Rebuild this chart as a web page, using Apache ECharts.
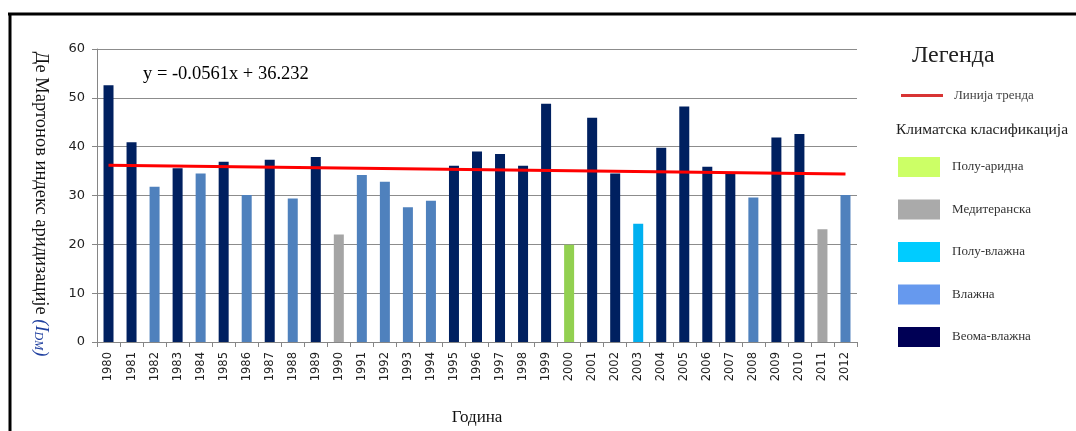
<!DOCTYPE html>
<html>
<head>
    <meta charset="utf-8">
    <title>Де Мартонов индекс аридизације</title>
    <script src="https://cdn.jsdelivr.net/npm/echarts@6/dist/echarts.min.js"></script>
    <style>
        html, body { margin: 0; padding: 0; background: #fff; }
        #main { width: 1076px; height: 431px; }
    </style>
</head>
<body>
<div id="main"></div>
<script type="text/javascript">
// years on the x axis
var years = ['1980','1981','1982','1983','1984','1985','1986','1987','1988','1989',
             '1990','1991','1992','1993','1994','1995','1996','1997','1998','1999',
             '2000','2001','2002','2003','2004','2005','2006','2007','2008','2009',
             '2010','2011','2012'];
// index values
var idmValues = [52.6, 40.9, 31.8, 35.6, 34.5, 36.9, 30.1, 37.3, 29.4, 37.9,
                 22.0, 34.2, 32.8, 27.6, 28.9, 36.1, 39.0, 38.5, 36.1, 48.8,
                 19.9, 45.9, 34.5, 24.2, 39.8, 48.2, 35.9, 34.5, 29.6, 41.9,
                 42.6, 23.1, 30.1];
// climate class of each year (index into classNames)
var yearClass = [4, 4, 3, 4, 3, 4, 3, 4, 3, 4,
                 1, 3, 3, 3, 3, 4, 4, 4, 4, 4,
                 0, 4, 4, 2, 4, 4, 4, 4, 3, 4,
                 4, 1, 3];
var classNames = ['Полу-аридна', 'Медитеранска', 'Полу-влажна', 'Влажна', 'Веома-влажна'];
var barColors = ['#92d050', '#a5a5a5', '#00b0f0', '#4f81bd', '#002060'];
var legendColors = ['#ccff66', '#aaaaaa', '#00ccff', '#6699ee', '#000055'];
// trend line end points (1980 and 2012)
var trendEnds = [36.18, 34.38];
var trendName = 'Линија тренда';
var equation = 'y = -0.0561x + 36.232';

var serif = '"Liberation Serif", "DejaVu Serif", serif';
var sans = '"DejaVu Sans", Verdana, sans-serif';

var chart = echarts.init(document.getElementById('main'));

var series = classNames.map(function (name, c) {
    return {
        name: name,
        type: 'bar',
        stack: 'idm',
        barWidth: 10,
        itemStyle: { color: barColors[c] },
        data: idmValues.map(function (v, i) { return yearClass[i] === c ? v : '-'; })
    };
});

var trendData = years.map(function () { return '-'; });
trendData[0] = trendEnds[0];
trendData[years.length - 1] = trendEnds[1];
series.push({
    name: trendName,
    type: 'line',
    data: trendData,
    connectNulls: true,
    symbol: 'none',
    z: 5,
    lineStyle: { color: '#ff0000', width: 3 },
    itemStyle: { color: '#e03030' }
});

var option = {
    animation: false,
    backgroundColor: '#fff',
    grid: { left: 97, top: 49, right: 219, bottom: 89 },
    xAxis: {
        type: 'category',
        data: years,
        name: 'Година',
        nameLocation: 'middle',
        nameGap: 67,
        nameTextStyle: { fontFamily: serif, fontSize: 17, color: '#111' },
        axisLine: { lineStyle: { color: '#868686' } },
        axisTick: { show: true, length: 5, lineStyle: { color: '#868686' } },
        axisLabel: { rotate: 90, fontFamily: sans, fontSize: 11.5, color: '#222', margin: 10 }
    },
    yAxis: {
        type: 'value',
        min: 0,
        max: 60,
        interval: 10,
        axisLine: { show: true, lineStyle: { color: '#868686' } },
        axisTick: { show: true, length: 5, lineStyle: { color: '#868686' } },
        axisLabel: { fontFamily: sans, fontSize: 13, color: '#222', margin: 12 },
        splitLine: { lineStyle: { color: '#8c8c8c', width: 1 } }
    },
    legend: [{
        data: [{ name: trendName, icon: 'rect', itemStyle: { color: '#d83434' } }],
        left: 896,
        top: 84,
        itemWidth: 42,
        itemHeight: 3,
        textStyle: { fontFamily: serif, fontSize: 13, color: '#444', padding: [0, 0, 0, 6] }
    }, {
        data: classNames.map(function (n, c) {
            return { name: n, icon: 'rect', itemStyle: { color: legendColors[c] } };
        }),
        orient: 'vertical',
        left: 893,
        top: 152,
        itemWidth: 42,
        itemHeight: 20,
        itemGap: 22.5,
        textStyle: { fontFamily: serif, fontSize: 13, color: '#333', padding: [0, 0, 0, 7] }
    }],
    graphic: [
        { type: 'line', shape: { x1: 8, y1: 14, x2: 1076, y2: 14 }, style: { stroke: '#000', lineWidth: 3 } },
        { type: 'line', shape: { x1: 10, y1: 13, x2: 10, y2: 431 }, style: { stroke: '#000', lineWidth: 3 } },
        {
            type: 'text', left: 143, top: 65,
            style: { text: equation, font: '18.5px ' + serif, fill: '#000' }
        },
        {
            type: 'text', left: 912, top: 44,
            style: { text: 'Легенда', font: '24px ' + serif, fill: '#222' }
        },
        {
            type: 'text', left: 896, top: 122,
            style: { text: 'Климатска класификација', font: '15.5px ' + serif, fill: '#222' }
        },
        {
            type: 'text', x: 41, y: 204, rotation: -Math.PI / 2,
            style: {
                text: '{a|Де Мартонов индекс аридизације }{b|(I}{s|DM}{b|)}',
                align: 'center',
                verticalAlign: 'middle',
                rich: {
                    a: { font: '18.5px ' + serif, fill: '#111' },
                    b: { font: 'italic 18.5px ' + serif, fill: '#1f3f9f' },
                    s: { font: 'italic 12px ' + serif, fill: '#1f3f9f', padding: [6, 0, 0, 0] }
                }
            }
        }
    ],
    series: series
};

chart.setOption(option);
</script>
</body>
</html>
